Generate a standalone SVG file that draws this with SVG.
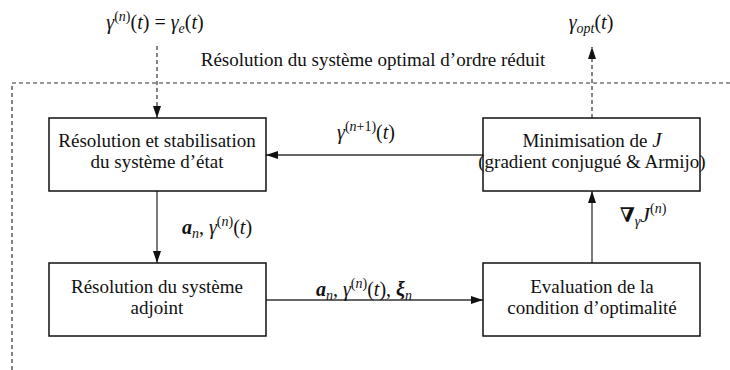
<svg xmlns="http://www.w3.org/2000/svg" width="730" height="370" viewBox="0 0 730 370">
<style>
text{font-family:"Liberation Serif","Times New Roman",serif;font-size:19px;fill:#111;}
.m{font-size:20px;}
.box{fill:#fff;stroke:#111;stroke-width:1.5;}
.c{text-anchor:middle;}
.i{font-style:italic;}
.b{font-weight:bold;font-style:italic;}
.s{font-size:14px;}
.line{stroke:#333;stroke-width:1.3;fill:none;}
.dash{stroke:#333;stroke-width:1.2;fill:none;stroke-dasharray:4 3;}
</style>
<defs>
<marker id="ah" viewBox="0 0 12 8" refX="12" refY="4" markerWidth="12" markerHeight="8" markerUnits="userSpaceOnUse" orient="auto">
<path d="M0,0 L12,4 L0,8 z" fill="#111"/>
</marker>
</defs>
<g id="frame">
<path class="dash" d="M12,370 L12,83 L730,83"/>
<text x="373" y="66" class="c">Résolution du système optimal d’ordre réduit</text>
</g>
<g id="connectors">
<path class="dash" d="M157,46 L157,118" marker-end="url(#ah)"/>
<path class="dash" d="M592,118 L592,47" marker-end="url(#ah)"/>
<path class="line" d="M483,155 L266,155" marker-end="url(#ah)"/>
<path class="line" d="M157,191 L157,263" marker-end="url(#ah)"/>
<path class="line" d="M266,300 L483,300" marker-end="url(#ah)"/>
<path class="line" d="M592,263 L592,191" marker-end="url(#ah)"/>
<text x="155" y="29" class="c m"><tspan class="i">γ</tspan><tspan class="s" dy="-8">(<tspan class="i">n</tspan>)</tspan><tspan dy="8">(<tspan class="i">t</tspan>) = </tspan><tspan class="i">γ</tspan><tspan class="s i" dy="4">e</tspan><tspan dy="-4">(<tspan class="i">t</tspan>)</tspan></text>
<text x="591" y="29" class="c m"><tspan class="i">γ</tspan><tspan class="s i" dy="4">opt</tspan><tspan dy="-4">(<tspan class="i">t</tspan>)</tspan></text>
<text x="366" y="139" class="c m"><tspan class="i">γ</tspan><tspan class="s" dy="-8">(<tspan class="i">n</tspan>+1)</tspan><tspan dy="8">(<tspan class="i">t</tspan>)</tspan></text>
<text x="217" y="234" class="c m"><tspan class="b">a</tspan><tspan class="s i" dy="4">n</tspan><tspan dy="-4">, </tspan><tspan class="i">γ</tspan><tspan class="s" dy="-8">(<tspan class="i">n</tspan>)</tspan><tspan dy="8">(<tspan class="i">t</tspan>)</tspan></text>
<text x="364" y="296" class="c m"><tspan class="b">a</tspan><tspan class="s i" dy="4">n</tspan><tspan dy="-4">, </tspan><tspan class="i">γ</tspan><tspan class="s" dy="-8">(<tspan class="i">n</tspan>)</tspan><tspan dy="8">(<tspan class="i">t</tspan>), </tspan><tspan class="b">ξ</tspan><tspan class="s i" dy="4">n</tspan></text>
<text x="643" y="222" class="c m"><tspan font-family="DejaVu Serif" font-weight="bold" font-size="20">∇</tspan><tspan class="s i" dy="4">γ</tspan><tspan class="i" dy="-4" font-size="22">J</tspan><tspan class="s" dy="-9">(<tspan class="i">n</tspan>)</tspan></text>
</g>
<g id="state">
<rect class="box" x="49" y="118" width="217" height="73"/>
<text x="157" y="147" class="c">Résolution et stabilisation</text>
<text x="157" y="168" class="c">du système d’état</text>
</g>
<g id="adjoint">
<rect class="box" x="49" y="263" width="217" height="73"/>
<text x="157" y="293" class="c">Résolution du système</text>
<text x="157" y="314" class="c">adjoint</text>
</g>
<g id="minimisation">
<rect class="box" x="483" y="118" width="217" height="73"/>
<text x="592" y="147" class="c">Minimisation de <tspan class="i" font-size="21">J</tspan></text>
<text x="592" y="168" class="c">(gradient conjugué &amp; Armijo)</text>
</g>
<g id="evaluation">
<rect class="box" x="483" y="263" width="217" height="73"/>
<text x="592" y="293" class="c">Evaluation de la</text>
<text x="592" y="314" class="c">condition d’optimalité</text>
</g>
</svg>
